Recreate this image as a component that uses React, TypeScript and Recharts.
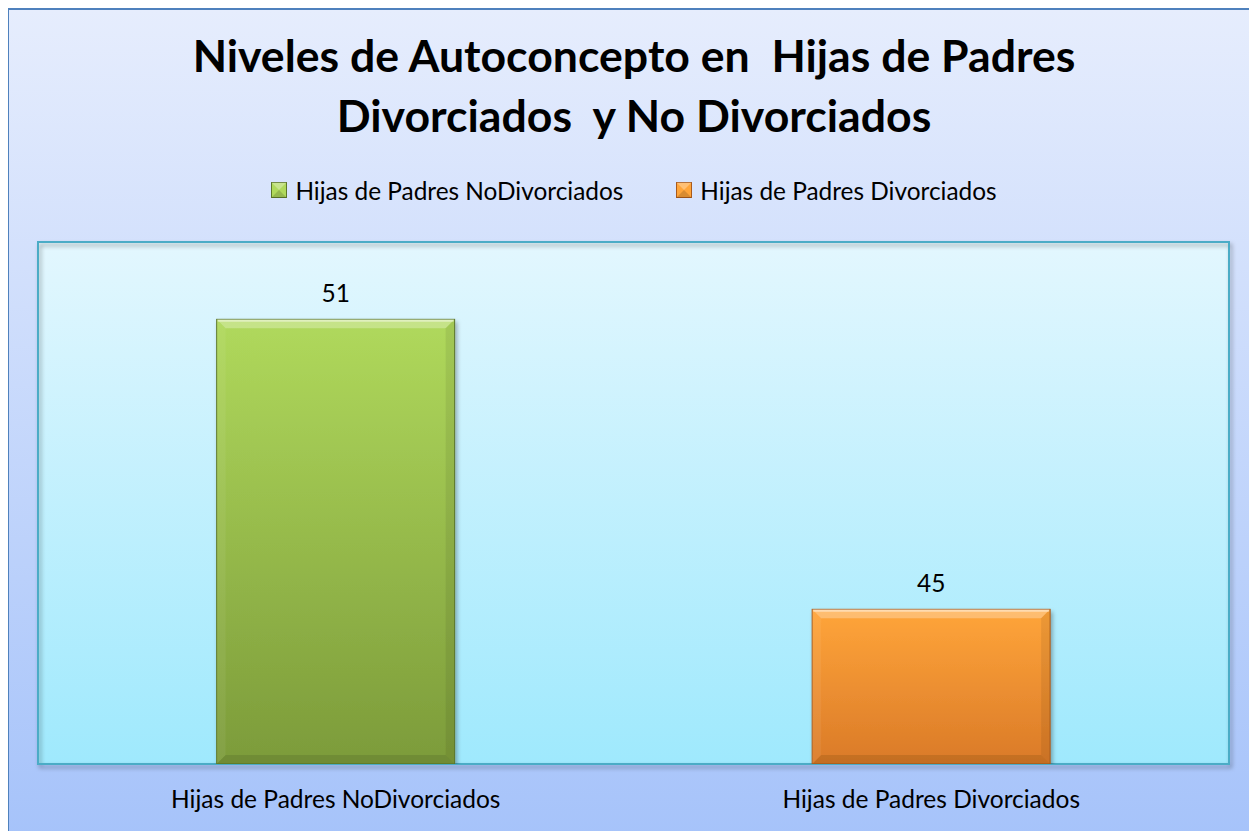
import React from 'react'
import { BarChart, Bar, XAxis, YAxis, CartesianGrid, Cell, LabelList, Legend, ReferenceArea } from 'recharts'

const categories = ['Hijas de Padres NoDivorciados', 'Hijas de Padres Divorciados']
const values = [51, 45]
const yDomain: [number, number] = [41.8, 52.6]

const titleLines = ['Niveles de Autoconcepto en  Hijas de Padres', 'Divorciados  y No Divorciados']

const barTop = ['#b0d95c', '#ffa53a']
const barBottom = ['#7c9b3a', '#da7a28']
const barEdge = ['#5d7829', '#a95a1b']

const data = categories.map((name, i) => ({ name, value: values[i] }))

const FONT = 'Lato, "Open Sans", sans-serif'
const W = 1256
const H = 826

function BevelBar(props: any) {
  const { x, y, width, height, payload } = props
  const i = Math.max(0, categories.indexOf(payload?.name))
  const b = 9
  const r = x + width
  const btm = y + height
  return (
    <g filter="url(#barShadow)">
      <rect x={x} y={y} width={width} height={height} fill={`url(#barGrad${i})`} stroke={barEdge[i]} strokeWidth={1} />
      <polygon points={`${x},${y} ${r},${y} ${r - b},${y + b} ${x + b},${y + b}`} fill="#fff" fillOpacity={0.28} />
      <polygon points={`${x},${y} ${x + b},${y + b} ${x + b},${btm - b} ${x},${btm}`} fill="#fff" fillOpacity={0.06} />
      <polygon points={`${r},${y} ${r},${btm} ${r - b},${btm - b} ${r - b},${y + b}`} fill="#000" fillOpacity={0.07} />
      <polygon points={`${x},${btm} ${x + b},${btm - b} ${r - b},${btm - b} ${r},${btm}`} fill="#000" fillOpacity={0.1} />
      <line x1={x + 1} y1={y + 1.5} x2={r - 1} y2={y + 1.5} stroke="#fff" strokeOpacity={0.45} strokeWidth={2} />
    </g>
  )
}

function LegendIcon({ i }: { i: number }) {
  return (
    <svg width={16} height={16} style={{ marginRight: 8, display: 'block' }}>
      <rect x={0.5} y={0.5} width={15} height={15} fill={barTop[i]} stroke={barEdge[i]} />
      <polygon points="0.5,0.5 15.5,0.5 8,8" fill="#fff" fillOpacity={0.3} />
      <polygon points="0.5,15.5 15.5,15.5 8,8" fill="#000" fillOpacity={0.15} />
    </svg>
  )
}

const renderLegend = () => (
  <div style={{ display: 'flex', justifyContent: 'center', alignItems: 'center', gap: 53, fontFamily: FONT, fontSize: 24.4, color: '#000', height: 30 }}>
    {categories.map((c, i) => (
      <div key={c} style={{ display: 'flex', alignItems: 'center' }}>
        <LegendIcon i={i} />
        <span>{c}</span>
      </div>
    ))}
  </div>
)

export default function App() {
  return (
    <div
      style={{
        position: 'relative',
        marginLeft: -1,
        width: W,
        height: H,
        border: '2px solid #4f81bd',
        background: 'linear-gradient(to bottom, #e6edfd 0%, #a6c3fa 100%)',
        boxShadow: '-1px 1px 3px rgba(0,0,0,0.25)',
        fontFamily: FONT
      }}
    >
      <style>{'html,body{overflow:hidden}'}</style>
      <div
        style={{
          position: 'absolute',
          top: 15,
          left: 0,
          width: 1250,
          textAlign: 'center',
          fontWeight: 700,
          fontSize: 44.6,
          lineHeight: '60px',
          whiteSpace: 'pre',
          color: '#000',
          zIndex: 1
        }}
      >
        {titleLines.map((t) => (
          <div key={t}>{t}</div>
        ))}
      </div>
      <BarChart
        width={W}
        height={H}
        data={data}
        margin={{ top: 232, right: 36, bottom: 32, left: 29 }}
        barCategoryGap="30%"
      >
        <defs>
          <linearGradient id="plotBg" x1="0" y1="0" x2="0" y2="1">
            <stop offset="0%" stopColor="#e3f7fe" />
            <stop offset="100%" stopColor="#9fe9fd" />
          </linearGradient>
          {categories.map((c, i) => (
            <linearGradient key={c} id={`barGrad${i}`} x1="0" y1="0" x2="0" y2="1">
              <stop offset="0%" stopColor={barTop[i]} />
              <stop offset="100%" stopColor={barBottom[i]} />
            </linearGradient>
          ))}
          <filter id="plotShadow" x="-5%" y="-5%" width="110%" height="115%">
            <feDropShadow dx={2} dy={3} stdDeviation={2} floodColor="#000" floodOpacity={0.35} />
          </filter>
          <filter id="barShadow" x="-10%" y="-5%" width="125%" height="115%">
            <feDropShadow dx={2} dy={3} stdDeviation={2} floodColor="#000" floodOpacity={0.3} />
          </filter>
        </defs>
        <CartesianGrid horizontal={false} vertical={false} fill="url(#plotBg)" fillOpacity={1} />
        <ReferenceArea
          y1={yDomain[0]}
          y2={yDomain[1]}
          fill="none"
          fillOpacity={0}
          stroke="#4bacc6"
          strokeWidth={2}
          filter="url(#plotShadow)"
          ifOverflow="visible"
        />
        <XAxis
          dataKey="name"
          height={40}
          axisLine={false}
          tickLine={false}
          tickMargin={21}
          tick={{ fill: '#000', fontSize: 24.5, fontFamily: FONT }}
        />
        <YAxis hide domain={yDomain} allowDataOverflow type="number" />
        <Legend
          layout="horizontal"
          verticalAlign="middle"
          align="center"
          content={renderLegend}
          wrapperStyle={{ top: 165, left: 0, width: 1250, height: 30 }}
        />
        <Bar dataKey="value" isAnimationActive={false} shape={BevelBar}>
          {data.map((d, i) => (
            <Cell key={d.name} fill={barTop[i]} />
          ))}
          <LabelList dataKey="value" position="top" offset={17} fill="#000" fontSize={24.5} fontFamily={FONT} />
        </Bar>
      </BarChart>
    </div>
  )
}
